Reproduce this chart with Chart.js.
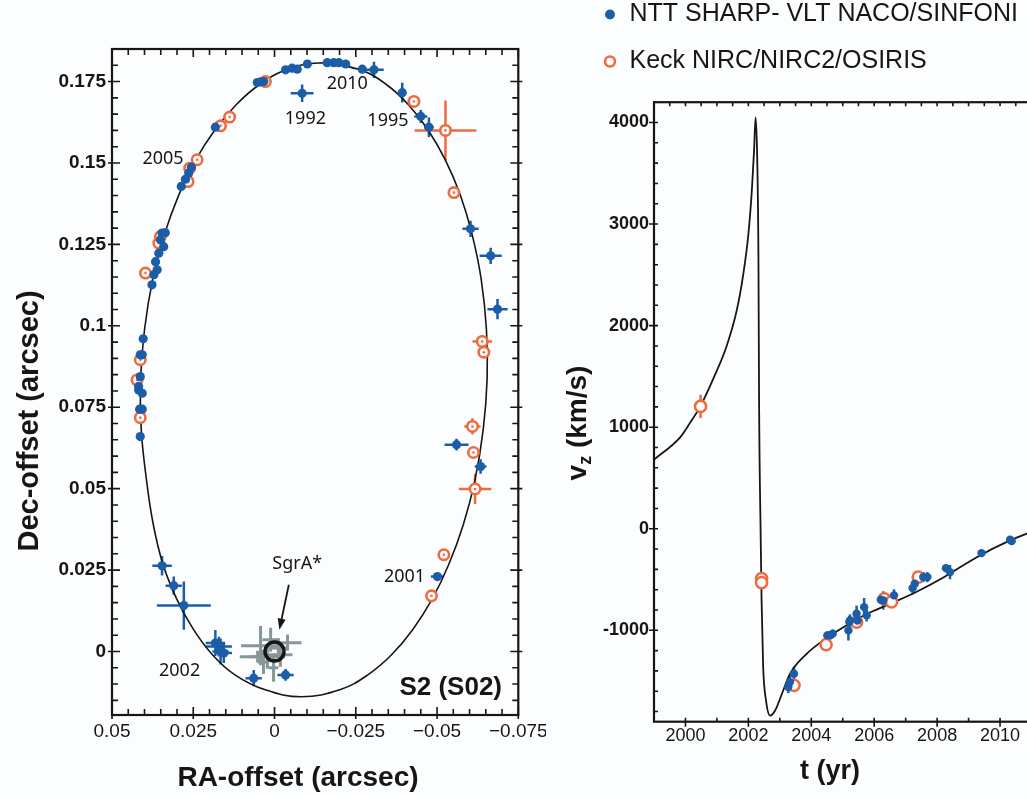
<!DOCTYPE html>
<html>
<head>
<meta charset="utf-8">
<script src="https://cdn.jsdelivr.net/npm/chart.js@4.4.1/dist/chart.umd.min.js"></script>
<style>
  html, body { margin: 0; padding: 0; background: #fcfdfe; overflow: hidden; }
  body { width: 1027px; height: 797px; position: relative; }
  #orbitBox { position: absolute; left: 0; top: 0; width: 546px; height: 797px; overflow: hidden; }
  #vzBox { position: absolute; left: 560px; top: -20px; width: 480px; height: 817px; }
</style>
</head>
<body>
<div id="orbitBox"><canvas id="orbit" width="560" height="797"></canvas></div>
<div id="vzBox"><canvas id="vz" width="480" height="817"></canvas></div>
<script>
// ---- S2 on the sky (arcsec) ----
// orbit trace, clockwise from the top; the first two points are repeated to close the loop smoothly
const orbitRA = [-0.0151, -0.0262, -0.0344, -0.0412, -0.0472, -0.0525, -0.0571, -0.0608, -0.0636, -0.0652,
  -0.0654, -0.0642, -0.0617, -0.0581, -0.0536, -0.0484, -0.0425, -0.0360, -0.0288, -0.0203, -0.0083,
  0.0031, 0.0123, 0.0191, 0.0249, 0.0300, 0.0343, 0.0373, 0.0394, 0.0410, 0.0412, 0.0400, 0.0375,
  0.0339, 0.0294, 0.0242, 0.0183, 0.0118, 0.0046, -0.0039, -0.0151, -0.0262];
const orbitDec = [0.1808, 0.1787, 0.1741, 0.1679, 0.1602, 0.1510, 0.1403, 0.1280, 0.1142, 0.0988,
  0.0835, 0.0681, 0.0528, 0.0390, 0.0267, 0.0159, 0.0067, -0.0010, -0.0071, -0.0117, -0.0139,
  -0.0117, -0.0071, -0.0010, 0.0067, 0.0159, 0.0267, 0.0390, 0.0528, 0.0681, 0.0835, 0.0988, 0.1142,
  0.1280, 0.1403, 0.1510, 0.1602, 0.1679, 0.1741, 0.1787, 0.1808, 0.1787];

const nttRA = [-0.0034, -0.0054, -0.0070, -0.0101, -0.0162, -0.0182, -0.0198, -0.0219, -0.0270, -0.0306, -0.0085,
  -0.0393, -0.0450, -0.0475, 0.0053, 0.0043, 0.0033, 0.0182, 0.0287, 0.0274, 0.0264, 0.0256, 0.0346, 0.0336, 0.0351,
  0.0341, 0.0356, 0.0366, 0.0361, 0.0371, 0.0377, 0.0404, 0.0413, 0.0407, 0.0413, 0.0418, 0.0418, 0.0407, 0.0415,
  0.0407, 0.0413, -0.0603, -0.0665, -0.0686, -0.0560, -0.0634, 0.0346, 0.0310, 0.0279, 0.0182, 0.0171, 0.0166,
  0.0156, 0.0064, -0.0034, -0.0501];
const nttDec = [0.1786, 0.1791, 0.1788, 0.1804, 0.1808, 0.1808, 0.1808, 0.1804, 0.1788, 0.1786, 0.1714,
  0.1716, 0.1643, 0.1610, 0.1747, 0.1749, 0.1750, 0.1610, 0.1428, 0.1450, 0.1469, 0.1487, 0.1285, 0.1286, 0.1264,
  0.1243, 0.1223, 0.1197, 0.1172, 0.1157, 0.1126, 0.0960, 0.0911, 0.0911, 0.0844, 0.0814, 0.0803, 0.0793, 0.0744,
  0.0744, 0.0660, 0.1298, 0.1215, 0.1051, 0.0635, 0.0568, 0.0263, 0.0202, 0.0141, 0.0026, 0.0015, 0.0000,
  -0.0005, -0.0082, -0.0072, 0.0230];
const nttErrRA = [0, 0, 0, 0, 0, 0, 0, 0, 0, 0.0030, 0.0035,
  0.0012, 0.0020, 0.0015, 0, 0, 0, 0, 0, 0, 0, 0, 0, 0, 0,
  0, 0, 0, 0, 0, 0, 0, 0, 0, 0, 0, 0, 0, 0,
  0, 0, 0.0025, 0.0034, 0.0031, 0.0037, 0.0018, 0.0030, 0.0025, 0.0083, 0.0030, 0.0040, 0.0025,
  0.0025, 0.0025, 0.0025, 0.0020];
const nttErrDec = [0, 0, 0, 0, 0, 0, 0, 0, 0, 0.0025, 0.0027,
  0.0030, 0.0020, 0.0030, 0, 0, 0, 0, 0, 0, 0, 0, 0, 0, 0,
  0, 0, 0, 0, 0, 0, 0, 0, 0, 0, 0, 0, 0, 0,
  0, 0, 0.0025, 0.0025, 0.0031, 0.0018, 0.0022, 0.0030, 0.0028, 0.0074, 0.0040, 0.0030, 0.0040,
  0.0030, 0.0025, 0.0018, 0.0010];

const keckRA = [0.0028, 0.0166, 0.0138, 0.0266, 0.0261, 0.0238, -0.0429, -0.0526, -0.0552, 0.0356, 0.0351,
  0.0397, 0.0413, 0.0423, 0.0413, -0.0639, -0.0644, -0.0609, -0.0612, -0.0617, -0.0521, -0.0483];
const keckDec = [0.1750, 0.1614, 0.1641, 0.1443, 0.1484, 0.1510, 0.1689, 0.1600, 0.1409, 0.1254, 0.1274,
  0.1162, 0.0896, 0.0834, 0.0718, 0.0952, 0.0919, 0.0691, 0.0611, 0.0499, 0.0297, 0.0171];
const keckErrRA = [0, 0, 0, 0, 0, 0, 0, 0.0095, 0, 0, 0,
  0, 0.0016, 0, 0, 0.0030, 0, 0.0025, 0, 0.0050, 0, 0];
const keckErrDec = [0, 0, 0, 0, 0, 0, 0, 0.0092, 0, 0, 0,
  0, 0, 0, 0, 0.0020, 0, 0.0025, 0, 0.0046, 0, 0];

// reference-frame crosses around Sgr A*
const refRA = [0.0043, 0.0022, -0.0018, -0.0040, 0.0052, 0.0003, 0.0012, -0.0012, 0.0034];
const refDec = [0.0018, -0.0016, -0.0010, 0.0027, -0.0016, -0.0050, 0.0036, 0.0011, -0.0032];
const refErrRA = [0.0060, 0.0055, 0.0037, 0.0043, 0.0055, 0.0015, 0.0025, 0.0030, 0.0018];
const refErrDec = [0.0060, 0.0037, 0.0037, 0.0025, 0.0018, 0.0043, 0.0037, 0.0030, 0.0037];

const raTicks = [0.05, 0.025, 0, -0.025, -0.05, -0.075];
const raTickLabels = ['0.05', '0.025', '0', '\u22120.025', '\u22120.05', '\u22120.075'];
const decTicks = [0, 0.025, 0.05, 0.075, 0.1, 0.125, 0.15, 0.175];
const decTickLabels = ['0', '0.025', '0.05', '0.075', '0.1', '0.125', '0.15', '0.175'];

// ---- radial velocity (km/s) ----
const vzYears = [1999.0, 1999.83, 2000.14, 2000.48, 2000.89, 2001.31, 2001.63, 2001.84, 2002.0, 2002.11, 2002.18,
  2002.23, 2002.28, 2002.32, 2002.34, 2002.39, 2002.42, 2002.47, 2002.56, 2002.69, 2002.85, 2003.11, 2003.32,
  2003.86, 2004.38, 2005.02, 2005.76, 2006.5, 2007.35, 2008.2, 2009.26, 2010.32, 2011.0];
const vzModel = [680, 900, 1040, 1210, 1480, 1800, 2150, 2510, 2900, 3330, 3720,
  4050, 3660, 2670, 1260, -50, -710, -1360, -1690, -1840, -1790, -1590, -1430,
  -1230, -1100, -970, -840, -740, -620, -480, -280, -115, -30];

const nttT = [2003.27, 2003.32, 2003.45, 2004.51, 2004.60, 2004.68, 2005.18, 2005.21, 2005.23, 2005.44, 2005.47,
  2005.68, 2005.76, 2006.21, 2006.29, 2006.63, 2007.22, 2007.29, 2007.56, 2007.69, 2008.28, 2008.41, 2009.41,
  2010.32, 2010.37];
const nttVz = [-1559, -1510, -1427, -1050, -1050, -1033, -1001, -919, -903, -837, -903,
  -772, -853, -699, -706, -656, -585, -541, -476, -476, -388, -427, -240,
  -108, -122];
const nttVzErr = [60, 60, 70, 40, 40, 40, 100, 60, 60, 80, 60,
  90, 60, 40, 90, 60, 60, 50, 50, 50, 40, 70, 30,
  30, 30];

const keckT = [2000.48, 2002.42, 2002.42, 2003.45, 2004.47, 2005.44, 2006.32, 2006.55, 2007.40];
const keckVz = [1204, -490, -530, -1542, -1142, -919, -690, -720, -476];
const keckVzErr = [115, 0, 0, 0, 0, 0, 0, 0, 0];

const yearTicks = [2000, 2002, 2004, 2006, 2008, 2010];
const vzTicks = [-1000, 0, 1000, 2000, 3000, 4000];
const vzTickLabels = ['-1000', '0', '1000', '2000', '3000', '4000'];

const bg = '#fcfdfe';
const blue = '#1c5da8';
const orange = '#ef6b3d';
const grey = '#879796';
const ink = '#161616';
const sans = '"Liberation Sans", Arial, sans-serif';

const pts = (xs, ys) => xs.map((x, i) => ({ x, y: ys[i] }));
const steps = (from, to, step) =>
  Array.from({ length: Math.round((to - from) / step) + 1 }, (_, i) => +(from + i * step).toFixed(4));

// crosses for datasets carrying errX / errY arrays
const errorBars = {
  id: 'errorBars',
  beforeDatasetsDraw(chart) {
    const { ctx, scales: { x, y } } = chart;
    chart.data.datasets.forEach((ds) => {
      if (!ds.errX && !ds.errY) return;
      ctx.save();
      ctx.strokeStyle = ds.errColor || ds.borderColor;
      ctx.lineWidth = ds.errWidth || 2.5;
      ds.data.forEach((p, i) => {
        const ex = ds.errX ? ds.errX[i] : 0;
        const ey = ds.errY ? ds.errY[i] : 0;
        const px = x.getPixelForValue(p.x);
        const py = y.getPixelForValue(p.y);
        ctx.beginPath();
        if (ex) {
          ctx.moveTo(x.getPixelForValue(p.x - ex), py);
          ctx.lineTo(x.getPixelForValue(p.x + ex), py);
        }
        if (ey) {
          ctx.moveTo(px, y.getPixelForValue(p.y - ey));
          ctx.lineTo(px, y.getPixelForValue(p.y + ey));
        }
        ctx.stroke();
      });
      ctx.restore();
    });
  },
};

// boxed frame with inward tick marks on all four sides
const frame = {
  id: 'frame',
  afterDatasetsDraw(chart, _, o) {
    const { ctx, chartArea: a, scales: { x, y } } = chart;
    ctx.save();
    ctx.strokeStyle = ink;
    ctx.lineWidth = 1.6;
    ctx.beginPath();
    const bottomTick = (v, inner, outer) => {
      const px = x.getPixelForValue(v);
      ctx.moveTo(px, a.bottom + outer);
      ctx.lineTo(px, a.bottom - inner);
    };
    const topTick = (v, inner, outer) => {
      const px = x.getPixelForValue(v);
      ctx.moveTo(px, a.top - outer);
      ctx.lineTo(px, a.top + inner);
    };
    const sideTick = (v, inner, outer) => {
      const py = y.getPixelForValue(v);
      ctx.moveTo(a.left - outer, py);
      ctx.lineTo(a.left + inner, py);
      ctx.moveTo(a.right + outer, py);
      ctx.lineTo(a.right - inner, py);
    };
    o.xMinor.forEach((v) => bottomTick(v, o.minor, 0));
    o.xMajor.forEach((v) => bottomTick(v, o.major, o.out));
    (o.xTop || o.xMinor).forEach((v) => topTick(v, o.minor, 0));
    o.xMajor.forEach((v) => topTick(v, o.major, 0));
    o.yMinor.forEach((v) => sideTick(v, o.minor, 0));
    o.yMajor.forEach((v) => sideTick(v, o.major, o.out));
    ctx.stroke();
    ctx.lineWidth = 2.2;
    ctx.strokeRect(a.left, a.top, a.right - a.left, a.bottom - a.top);
    ctx.restore();
  },
};

const epochNotes = [
  { text: '2010', ra: -0.0224, dec: 0.1743 },
  { text: '1992', ra: -0.0095, dec: 0.1636 },
  { text: '1995', ra: -0.0349, dec: 0.1629 },
  { text: '2005', ra: 0.0343, dec: 0.1513 },
  { text: '2001', ra: -0.0400, dec: 0.0229 },
  { text: '2002', ra: 0.0292, dec: -0.0059 },
  { text: 'SgrA*', ra: -0.0070, dec: 0.0269 },
];

const orbitNotes = {
  id: 'orbitNotes',
  afterDraw(chart) {
    const { ctx, scales: { x, y } } = chart;
    ctx.save();
    ctx.fillStyle = ink;
    ctx.strokeStyle = ink;
    ctx.textAlign = 'center';
    ctx.textBaseline = 'middle';
    ctx.font = '18px "Noto Sans", sans-serif';
    epochNotes.forEach((n) => ctx.fillText(n.text, x.getPixelForValue(n.ra), y.getPixelForValue(n.dec)));

    // arrow down to Sgr A*
    const x0 = x.getPixelForValue(-0.0044), y0 = y.getPixelForValue(0.0205);
    const x1 = x.getPixelForValue(-0.0015), y1 = y.getPixelForValue(0.0067);
    const ang = Math.atan2(y1 - y0, x1 - x0);
    ctx.lineWidth = 1.8;
    ctx.beginPath();
    ctx.moveTo(x0, y0);
    ctx.lineTo(x1 - 6 * Math.cos(ang), y1 - 6 * Math.sin(ang));
    ctx.stroke();
    ctx.beginPath();
    ctx.moveTo(x1, y1);
    ctx.lineTo(x1 - 11 * Math.cos(ang) + 4 * Math.sin(ang), y1 - 11 * Math.sin(ang) - 4 * Math.cos(ang));
    ctx.lineTo(x1 - 11 * Math.cos(ang) - 4 * Math.sin(ang), y1 - 11 * Math.sin(ang) + 4 * Math.cos(ang));
    ctx.closePath();
    ctx.fill();

    ctx.font = 'bold 26px ' + sans;
    ctx.fillText('S2 (S02)', x.getPixelForValue(-0.0542), y.getPixelForValue(-0.0112));
    ctx.font = 'bold 28px ' + sans;
    ctx.fillText('RA-offset (arcsec)', 298, 778);
    ctx.translate(30, 421);
    ctx.rotate(-Math.PI / 2);
    ctx.font = 'bold 29px ' + sans;
    ctx.fillText('Dec-offset (arcsec)', 0, 0);
    ctx.restore();
  },
};

const vzTitles = {
  id: 'vzTitles',
  afterDraw(chart) {
    const { ctx } = chart;
    ctx.save();
    ctx.fillStyle = ink;
    ctx.textBaseline = 'middle';
    ctx.textAlign = 'center';
    ctx.font = 'bold 27px ' + sans;
    ctx.fillText('t (yr)', 270, 792);

    ctx.translate(18, 443);
    ctx.rotate(-Math.PI / 2);
    ctx.textAlign = 'left';
    const big = 'bold 28px ' + sans, small = 'bold 18px ' + sans;
    ctx.font = big;
    const wv = ctx.measureText('v').width, wu = ctx.measureText(' (km/s)').width;
    ctx.font = small;
    const wz = ctx.measureText('z').width;
    let cx = -(wv + wz + wu) / 2;
    ctx.font = big;
    ctx.fillText('v', cx, 0);
    cx += wv;
    ctx.font = small;
    ctx.fillText('z', cx, 8);
    cx += wz;
    ctx.font = big;
    ctx.fillText(' (km/s)', cx, 0);
    ctx.restore();
  },
};

new Chart(document.getElementById('orbit'), {
  type: 'scatter',
  plugins: [errorBars, frame, orbitNotes],
  data: {
    datasets: [
      { label: 'SgrA*', data: [{ x: 0, y: 0 }], pointRadius: 9.5, borderWidth: 3.5,
        borderColor: ink, backgroundColor: 'rgba(0,0,0,0)', order: 0 },
      { label: 'NTT SHARP- VLT NACO/SINFONI', data: pts(nttRA, nttDec), errX: nttErrRA, errY: nttErrDec,
        pointRadius: 4.6, borderWidth: 0, backgroundColor: blue, borderColor: blue, order: 1 },
      { label: 'Keck centres', data: pts(keckRA, keckDec), pointRadius: 1.3, borderWidth: 0,
        backgroundColor: orange, order: 1.5 },
      { label: 'Keck NIRC/NIRC2/OSIRIS', data: pts(keckRA, keckDec), errX: keckErrRA, errY: keckErrDec,
        pointRadius: 5.2, borderWidth: 2.6, backgroundColor: bg, borderColor: orange, order: 2 },
      { label: 'reference', data: pts(refRA, refDec), errX: refErrRA, errY: refErrDec, errColor: grey,
        errWidth: 3, pointRadius: 0, borderColor: grey, order: 3 },
      { label: 'orbit', data: pts(orbitRA, orbitDec), showLine: true, pointRadius: 0,
        borderColor: ink, borderWidth: 1.6, tension: 0.4, order: 4 },
    ],
  },
  options: {
    responsive: false,
    animation: false,
    devicePixelRatio: 1,
    layout: { padding: { top: 49, right: 41.7, left: 0, bottom: 0 } },
    plugins: {
      legend: { display: false },
      tooltip: { enabled: false },
      frame: {
        xMajor: raTicks, xMinor: steps(-0.075, 0.05, 0.005),
        yMajor: decTicks, yMinor: steps(-0.015, 0.185, 0.005),
        major: 8, minor: 6, out: 4,
      },
    },
    scales: {
      x: {
        type: 'linear', reverse: true, min: -0.075, max: 0.05,
        afterBuildTicks: (s) => { s.ticks = raTicks.map((value) => ({ value })); },
        afterFit: (s) => { s.height = 82; },
        grid: { display: false, drawTicks: false },
        border: { display: false },
        ticks: {
          autoSkip: false, maxRotation: 0, padding: 5, color: ink,
          font: { size: 19, family: sans },
          callback: (v, i) => raTickLabels[i],
        },
      },
      y: {
        min: -0.0195, max: 0.185,
        afterBuildTicks: (s) => { s.ticks = decTicks.map((value) => ({ value })); },
        afterFit: (s) => { s.width = 112; },
        grid: { display: false, drawTicks: false },
        border: { display: false },
        ticks: {
          padding: 6, color: ink,
          font: { size: 19, weight: 'bold', family: sans },
          callback: (v, i) => decTickLabels[i],
        },
      },
    },
  },
});

new Chart(document.getElementById('vz'), {
  type: 'scatter',
  plugins: [errorBars, frame, vzTitles],
  data: {
    datasets: [
      { label: 'NTT SHARP- VLT NACO/SINFONI', data: pts(nttT, nttVz), errY: nttVzErr, errWidth: 2.5,
        pointRadius: 4.2, borderWidth: 0, backgroundColor: blue, borderColor: blue, order: 0 },
      { label: 'Keck NIRC/NIRC2/OSIRIS', data: pts(keckT, keckVz), errY: keckVzErr, errWidth: 2.5,
        pointRadius: 5.6, borderWidth: 2.5, backgroundColor: bg, borderColor: orange, order: 1 },
      { label: '', data: pts(vzYears, vzModel), showLine: true, pointRadius: 0,
        borderColor: ink, borderWidth: 1.8, cubicInterpolationMode: 'monotone', order: 2 },
    ],
  },
  options: {
    responsive: false,
    animation: false,
    devicePixelRatio: 1,
    layout: { padding: { top: 0, right: 8.5, left: 21, bottom: 0 } },
    plugins: {
      legend: {
        position: 'top', align: 'start',
        labels: {
          usePointStyle: true, boxWidth: 14, boxHeight: 7, padding: 22, color: ink,
          font: { size: 25, family: sans },
          filter: (item) => !!item.text,
        },
      },
      title: { display: true, text: '', weight: 100, font: { size: 1 }, padding: { top: 17, bottom: 0 } },
      tooltip: { enabled: false },
      frame: {
        xMajor: yearTicks, xMinor: steps(1999, 2011, 1), xTop: steps(1999, 2011, 0.5),
        yMajor: vzTicks, yMinor: steps(-1800, 4200, 200),
        major: 4, minor: 4, out: 5,
      },
    },
    scales: {
      x: {
        type: 'linear', min: 1999, max: 2011,
        afterBuildTicks: (s) => { s.ticks = yearTicks.map((value) => ({ value })); },
        afterFit: (s) => { s.height = 75.3; },
        grid: { display: false, drawTicks: false },
        border: { display: false },
        ticks: {
          autoSkip: false, maxRotation: 0, padding: 4, color: ink,
          font: { size: 18, family: sans },
          callback: (v) => String(v),
        },
      },
      y: {
        min: -1900, max: 4200,
        afterBuildTicks: (s) => { s.ticks = vzTicks.map((value) => ({ value })); },
        afterFit: (s) => { s.width = 73; },
        grid: { display: false, drawTicks: false },
        border: { display: false },
        ticks: {
          padding: 5, color: ink,
          font: { size: 18, weight: 'bold', family: sans },
          callback: (v, i) => vzTickLabels[i],
        },
      },
    },
  },
});
</script>
</body>
</html>
